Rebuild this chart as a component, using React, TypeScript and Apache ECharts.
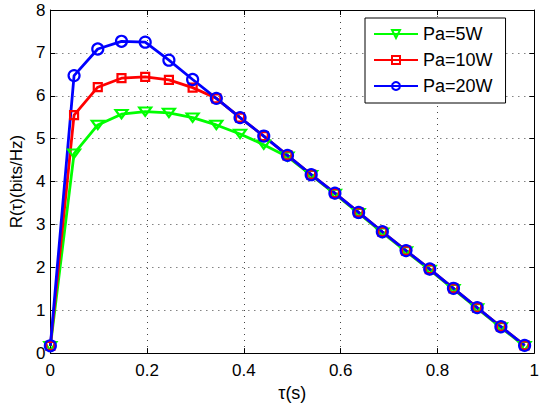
import React, { useEffect, useRef } from "react";
import * as echarts from "echarts";

const tau = [0, 0.049, 0.098, 0.147, 0.196, 0.245, 0.294, 0.343, 0.392, 0.441, 0.49, 0.539, 0.588, 0.637, 0.686, 0.735, 0.784, 0.833, 0.882, 0.931, 0.98];
const pa5 = [0.16, 4.65, 5.32, 5.57, 5.63, 5.6, 5.49, 5.32, 5.11, 4.86, 4.58, 4.15, 3.71, 3.26, 2.81, 2.37, 1.94, 1.49, 1.04, 0.6, 0.16];
const pa10 = [0.17, 5.55, 6.2, 6.41, 6.44, 6.37, 6.19, 5.94, 5.49, 5.06, 4.61, 4.16, 3.73, 3.28, 2.83, 2.39, 1.96, 1.51, 1.06, 0.615, 0.18];
const pa20 = [0.17, 6.47, 7.09, 7.27, 7.25, 6.83, 6.38, 5.94, 5.49, 5.06, 4.61, 4.16, 3.73, 3.28, 2.83, 2.39, 1.96, 1.51, 1.06, 0.615, 0.18];
const seriesNames = ["Pa=5W", "Pa=10W", "Pa=20W"];

const FONT = "Liberation Sans";

export default function App() {
  const ref = useRef<HTMLDivElement>(null);
  useEffect(() => {
    if (!ref.current) return;
    const chart = echarts.init(ref.current, null, { renderer: "svg" });
    const pair = (ys: number[]) => tau.map((x, i) => [x, ys[i]]);
    const mk = (name: string, ys: number[], color: string, symbol: string, size: any) => ({
      name,
      type: "line",
      data: pair(ys),
      symbol,
      symbolSize: size,
      symbolKeepAspect: true,
      showAllSymbol: true,
      color,
      lineStyle: { color, width: 2.8 },
      itemStyle: { color: "rgba(0,0,0,0)", borderColor: color, borderWidth: 2.2 },
      emphasis: { disabled: true },
      z: 3,
    });
    const tickCommon = { show: true, inside: true, length: 5, lineStyle: { color: "#000", width: 1 } };
    chart.setOption({
      animation: false,
      backgroundColor: "#fff",
      grid: { left: 49, right: 1, top: 10, bottom: 50, containLabel: false },
      legend: {
        show: true,
        orient: "vertical",
        left: 365,
        top: 18,
        itemWidth: 44,
        itemHeight: 10,
        itemGap: 8,
        padding: [7, 13, 8, 8],
        borderColor: "#000",
        borderWidth: 1,
        backgroundColor: "#fff",
        textStyle: { fontFamily: FONT, fontSize: 18, color: "#000" },
        data: seriesNames,
      },
      xAxis: [
        {
          type: "value",
          min: 0,
          max: 1,
          interval: 0.2,
          name: "τ(s)",
          nameLocation: "middle",
          nameGap: 25,
          nameTextStyle: { fontFamily: FONT, fontSize: 18, color: "#000" },
          axisLine: { show: true, onZero: false, lineStyle: { color: "#000", width: 1 } },
          axisTick: tickCommon,
          axisLabel: { fontFamily: FONT, fontSize: 17, color: "#000", margin: 9 },
          splitLine: { show: true, lineStyle: { color: "#444", width: 1, type: [1, 5] } },
        },
        {
          type: "value",
          position: "top",
          min: 0,
          max: 1,
          interval: 0.2,
          axisLine: { show: true, onZero: false, lineStyle: { color: "#000", width: 1 } },
          axisTick: tickCommon,
          axisLabel: { show: false },
          splitLine: { show: false },
        },
      ],
      yAxis: [
        {
          type: "value",
          min: 0,
          max: 8,
          interval: 1,
          name: "R(τ)(bits/Hz)",
          nameLocation: "middle",
          nameGap: 24,
          nameTextStyle: { fontFamily: FONT, fontSize: 17, color: "#000" },
          axisLine: { show: true, onZero: false, lineStyle: { color: "#000", width: 1 } },
          axisTick: tickCommon,
          axisLabel: { fontFamily: FONT, fontSize: 17, color: "#000", margin: 5 },
          splitLine: { show: true, lineStyle: { color: "#444", width: 1, type: [1, 5] } },
        },
        {
          type: "value",
          position: "right",
          min: 0,
          max: 8,
          interval: 1,
          axisLine: { show: true, onZero: false, lineStyle: { color: "#000", width: 1 } },
          axisTick: tickCommon,
          axisLabel: { show: false },
          splitLine: { show: false },
        },
      ],
      series: [
        mk(seriesNames[0], pa5, "#00ff00", "path://M0,0 L12,0 L6,10 Z", [12, 10]),
        mk(seriesNames[1], pa10, "#ff0000", "rect", 8),
        mk(seriesNames[2], pa20, "#0000ff", "circle", 11),
      ],
    });
    return () => chart.dispose();
  }, []);
  return (
    <div
      ref={ref}
      style={{ position: "fixed", left: 0, top: 0, width: 542, height: 407 }}
    />
  );
}
